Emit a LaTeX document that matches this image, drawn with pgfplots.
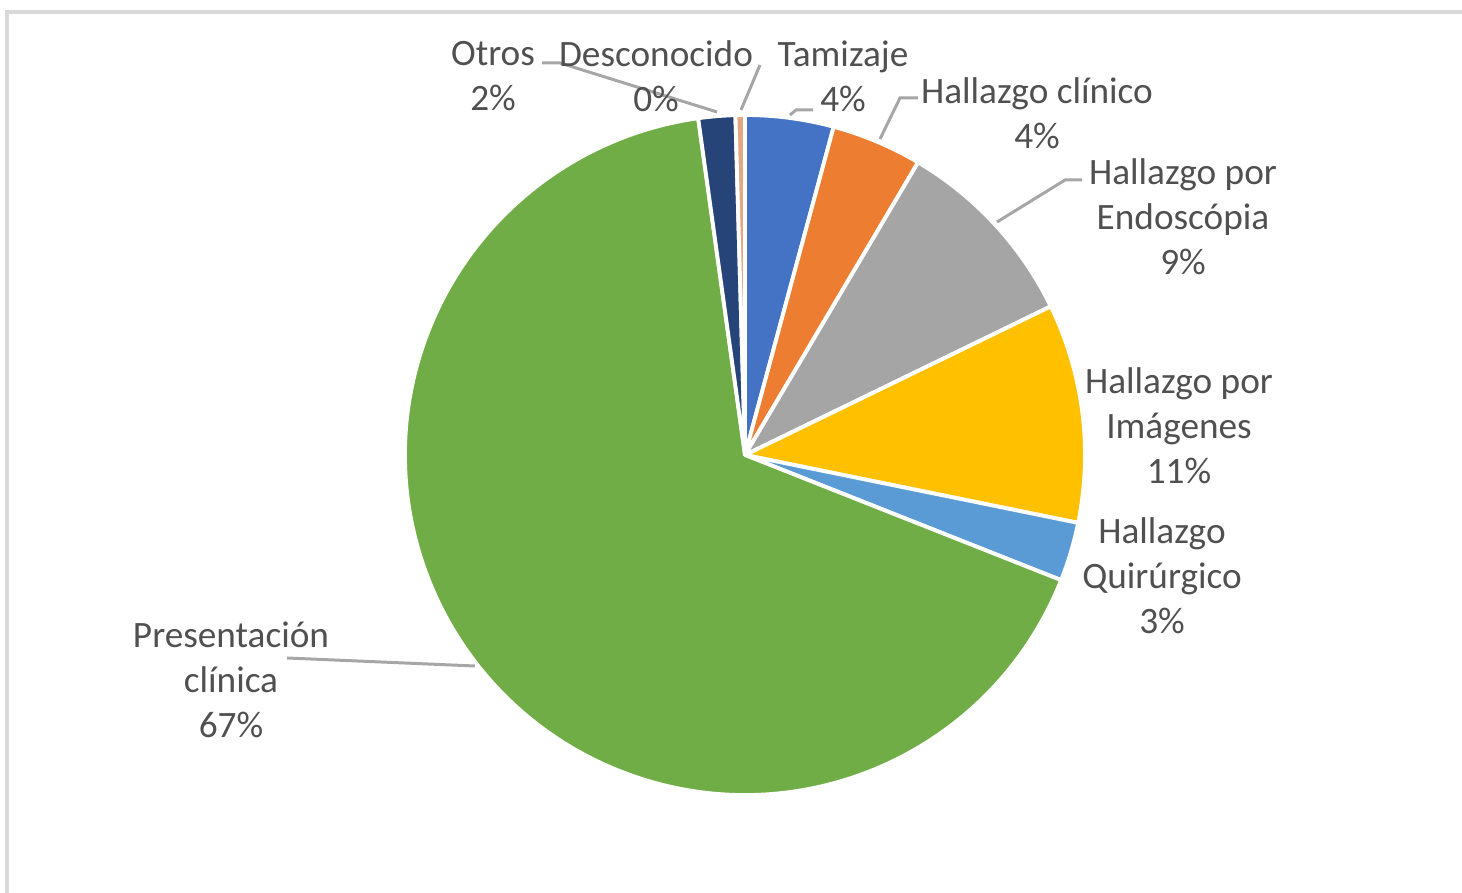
\documentclass[border=0pt]{standalone}
\usepackage{pgfplots}
\pgfplotsset{compat=1.18}
\usepackage{pgfplotstable}
\usepackage{fontspec}
\setmainfont{Carlito}
\usetikzlibrary{calc}

\definecolor{c1}{HTML}{4472C4}
\definecolor{c2}{HTML}{ED7D31}
\definecolor{c3}{HTML}{A5A5A5}
\definecolor{c4}{HTML}{FFC000}
\definecolor{c5}{HTML}{5B9BD5}
\definecolor{c6}{HTML}{70AD47}
\definecolor{c7}{HTML}{264478}
\definecolor{c8}{HTML}{E2A783}
\definecolor{txt}{HTML}{505050}
\definecolor{lead}{HTML}{A6A6A6}
\definecolor{frame}{HTML}{D9D9D9}

% share of each slice (%), clockwise from 12 o'clock
\pgfplotstableread{
name value col
Tamizaje 4.2 c1
HallazgoClinico 4.3 c2
Endoscopia 9.3 c3
Imagenes 10.4 c4
Quirurgico 2.8 c5
Presentacion 66.8 c6
Otros 1.75 c7
Desconocido 0.45 c8
}\piedata

\tikzset{lbl/.style={font=\fontsize{10.6}{12.8}\selectfont, text=txt, align=center, inner sep=0pt}}

\begin{document}
\begin{tikzpicture}
\path[use as bounding box] (0,0) rectangle (14.62,8.92);
\begin{axis}[
  at={(0,0)}, anchor=south west,
  scale only axis, width=14.62cm, height=8.92cm,
  xmin=0, xmax=1462, ymin=0, ymax=892,
  hide axis, clip=false,
]
% outer frame
\addplot[frame, line width=1.1pt] coordinates {(7,-20) (7,880) (1480,880)};

\pgfplotsextra{
  \pgfplotstablegetrowsof{\piedata}
  \pgfmathtruncatemacro\nrows{\pgfplotsretval-1}
  \gdef\cum{0}
  \foreach \i in {0,...,\nrows}{
    \pgfplotstablegetelem{\i}{value}\of\piedata \let\val\pgfplotsretval
    \pgfplotstablegetelem{\i}{col}\of\piedata \let\col\pgfplotsretval
    \pgfmathsetmacro\sa{90-3.6*\cum}
    \pgfmathsetmacro\ea{90-3.6*(\cum+\val)}
    \fill[\col, draw=white, line width=1.1pt, line join=round]
      (axis cs:745,437) -- ($(axis cs:745,437)+(\sa:3.4cm)$)
      arc[start angle=\sa, end angle=\ea, radius=3.4cm] -- cycle;
    \pgfmathsetmacro\nc{\cum+\val}
    \xdef\cum{\nc}
  }
}

% leader lines
\addplot[lead, line width=0.85pt] coordinates {(542,829) (560,829) (717,780)};
\addplot[lead, line width=0.85pt] coordinates {(760,827) (741,782)};
\addplot[lead, line width=0.85pt] coordinates {(790,777) (796,782) (813,782)};
\addplot[lead, line width=0.85pt] coordinates {(880,753) (900,794) (918,794)};
\addplot[lead, line width=0.85pt] coordinates {(997,670) (1065,712) (1082,712)};
\addplot[lead, line width=0.85pt] coordinates {(287,234) (475,226)};

% data labels
\node[lbl] at (axis cs:493,816) {Otros\\2\%};
\node[lbl] at (axis cs:656,816) {Desconocido\\0\%};
\node[lbl] at (axis cs:843,816) {Tamizaje\\4\%};
\node[lbl] at (axis cs:1037,778.5) {Hallazgo clínico\\4\%};
\node[lbl] at (axis cs:1183,675) {Hallazgo por\\Endoscópia\\9\%};
\node[lbl] at (axis cs:1179,466) {Hallazgo por\\Imágenes\\11\%};
\node[lbl] at (axis cs:1162,316) {Hallazgo\\Quirúrgico\\3\%};
\node[lbl] at (axis cs:231,212) {Presentación\\clínica\\67\%};
\end{axis}
\end{tikzpicture}
\end{document}
